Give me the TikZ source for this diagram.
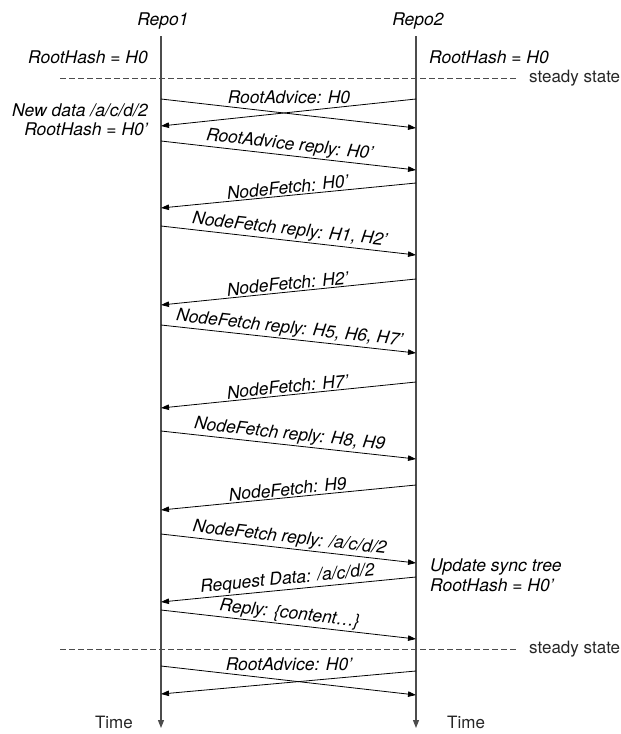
\documentclass[tikz,border=0pt]{standalone}
\usepackage{fontspec}
\setmainfont{TeX Gyre Heros}
\usetikzlibrary{arrows.meta}
\begin{document}
\begin{tikzpicture}[x=1pt, y=-1pt,
                    lifeline/.style={draw=black!70, line width=1.1pt, -{Triangle[length=8pt,width=6pt]}},
                    msg/.style={line width=0.8pt, -{Triangle[length=8pt,width=5.5pt]}},
                    lbl/.style={font=\fontsize{17.5}{20}\selectfont\itshape, inner sep=1.5pt},
                    note/.style={font=\fontsize{17.5}{20}\selectfont\itshape, inner sep=0pt},
                    plain/.style={font=\fontsize{17}{20}\selectfont, inner sep=0pt, text=black!85},
                    steady/.style={line width=0.7pt, draw=black!70, dash pattern=on 6pt off 3pt}]
  \useasboundingbox (0,0) rectangle (621,734);
  \node[note, anchor=base] (repo1) at (163,25) {Repo1};
  \node[note, anchor=base] (repo2) at (418,25) {Repo2};
  \coordinate (top1) at (161,36);
  \coordinate (bot1) at (161,728);
  \coordinate (top2) at (416,36);
  \coordinate (bot2) at (416,728);
  \draw[lifeline] (top1) -- (bot1);
  \draw[lifeline] (top2) -- (bot2);
  \node[plain, anchor=base east] (time1) at (133,728) {Time};
  \node[plain, anchor=base west] (time2) at (447,728) {Time};

  \node[note, anchor=base east] (hash1) at (148,63) {RootHash = H0};
  \node[note, anchor=base west] (hash2) at (429,63) {RootHash = H0};
  \node[note, anchor=base east] (newdata) at (148,116) {New data /a/c/d/2};
  \node[note, anchor=base east] (hash1b) at (148,135) {RootHash = H0'};
  \node[note, anchor=base west] (update) at (430,571) {Update sync tree};
  \node[note, anchor=base west] (hash2b) at (430,591) {RootHash = H0'};

  \foreach \y/\n in {78/a, 649/b} {
    \coordinate (sl\n) at (60,\y);
    \coordinate (sr\n) at (518,\y);
    \draw[steady] (sl\n) -- (sr\n);
    \node[plain, anchor=west] (steady\n) at (529,\y) {steady state};
  }

  \foreach \ya/\yb/\yt/\txt/\n in {99/128/97/{RootAdvice: H0}/a, 666/695/664/{RootAdvice: H0'}/b} {
    \coordinate (xl\n) at (161,\ya);
    \coordinate (xr\n) at (416,\yb);
    \draw[msg] (xl\n) -- (xr\n);
    \node[lbl] (adv\n) at (289,\yt) {\txt};
  }
  \coordinate (ya) at (416,99);
  \coordinate (yla) at (161,126);
  \draw[msg] (ya) -- (yla);
  \coordinate (yb) at (416,671);
  \coordinate (ylb) at (161,694);
  \draw[msg] (yb) -- (ylb);

  \foreach \ya/\yb/\txt [count=\i] in {141/170/{RootAdvice reply: H0'},
                                        226/255/{NodeFetch reply: H1, H2'},
                                        325/353/{NodeFetch reply: H5, H6, H7'},
                                        431/459/{NodeFetch reply: H8, H9},
                                        534/563/{NodeFetch reply: /a/c/d/2},
                                        610/639/{Reply: \{content\dots\}}} {
    \coordinate (ra\i) at (161,\ya);
    \coordinate (rb\i) at (416,\yb);
    \draw[msg] (ra\i) -- node[lbl, sloped, above] (rt\i) {\txt} (rb\i);
  }

  \foreach \ya/\yb/\txt [count=\i] in {183/208/{NodeFetch: H0'},
                                        279/305/{NodeFetch: H2'},
                                        382/408/{NodeFetch: H7'},
                                        485/510/{NodeFetch: H9},
                                        577/602/{Request Data: /a/c/d/2}} {
    \coordinate (fa\i) at (416,\ya);
    \coordinate (fb\i) at (161,\yb);
    \draw[msg] (fa\i) -- node[lbl, sloped, above] (ft\i) {\txt} (fb\i);
  }
\end{tikzpicture}
\end{document}
